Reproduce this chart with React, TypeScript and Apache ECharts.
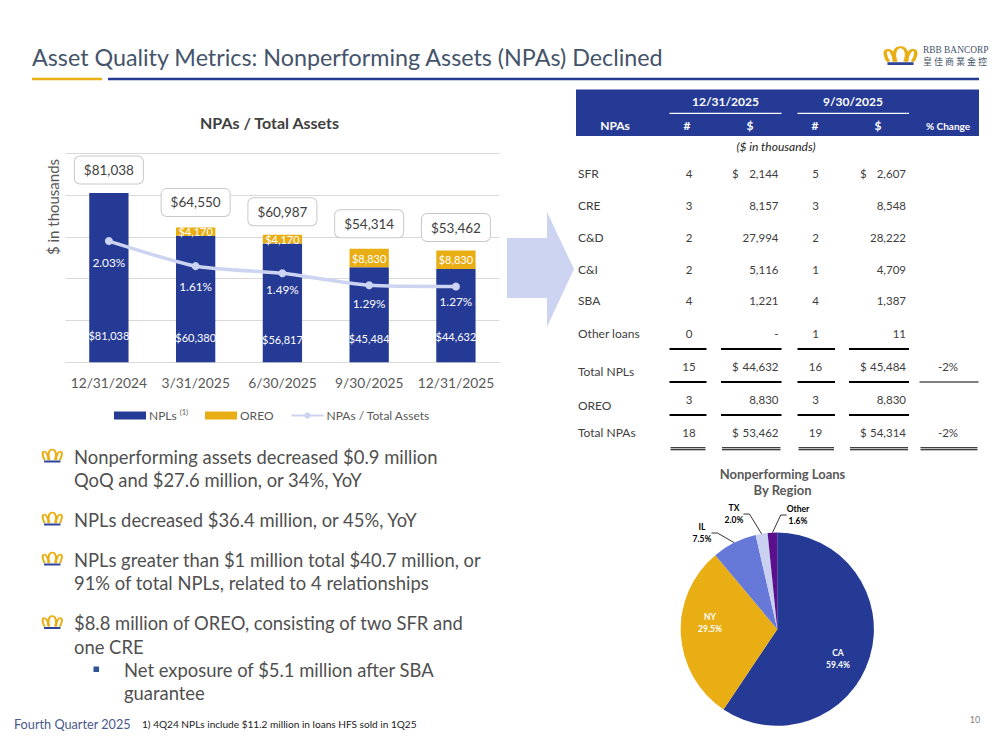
import React, { useEffect, useRef } from "react";
import * as echarts from "echarts";

const FONT = "Lato";
const NAVY = "#253A94";
const GOLD = "#E8AE14";
const PERIWINKLE = "#CDD4F1";
const GREY = "#595959";
const BODY = "#404040";

// ---- bar / line chart data
const quarters = ["12/31/2024", "3/31/2025", "6/30/2025", "9/30/2025", "12/31/2025"];
const nplValues = [81038, 60380, 56817, 45484, 44632];
const oreoValues = [null, 4170, 4170, 8830, 8830];
const totalValues = [81038, 64550, 60987, 54314, 53462];
const ratioValues = [2.03, 1.61, 1.49, 1.29, 1.27];
const nplLabelDistance = [28, 26, 24, 25, 27];
const ratioLabelDistance = [11, 10, 6, 8, 5];
const totalLabelDistance = [9, 11, 9, 11, 9];

// ---- pie data
const regions = ["CA", "NY", "IL", "TX", "Other"];
const regionShares = [59.4, 29.5, 7.5, 2.0, 1.6];
const regionColors = [NAVY, GOLD, "#6678D8", "#C9D0F0", "#5A0F8C"];
const regionLabelSpots: [number, number][] = [
  [838, 659],
  [710, 623],
  [702, 533],
  [734, 514],
  [798, 515],
];

// ---- table data
const rowLabels = ["SFR", "CRE", "C&D", "C&I", "SBA", "Other loans", "Total NPLs", "OREO", "Total NPAs"];
const countsCurrent = ["4", "3", "2", "2", "4", "0", "15", "3", "18"];
const amountsCurrent = ["2,144", "8,157", "27,994", "5,116", "1,221", "-", "44,632", "8,830", "53,462"];
const countsPrior = ["5", "3", "2", "1", "4", "1", "16", "3", "19"];
const amountsPrior = ["2,607", "8,548", "28,222", "4,709", "1,387", "11", "45,484", "8,830", "54,314"];
const percentChange = ["", "", "", "", "", "", "-2%", "", "-2%"];
const dollarRows = [0, 6, 8];

// ---- slide text
const bullets = [
  { y: 456.5, crown: true, x: 74, text: "Nonperforming assets decreased $0.9 million" },
  { y: 479.5, crown: false, x: 74, text: "QoQ and $27.6 million, or 34%, YoY" },
  { y: 519.5, crown: true, x: 74, text: "NPLs decreased $36.4 million, or 45%, YoY" },
  { y: 559.5, crown: true, x: 74, text: "NPLs greater than $1 million total $40.7 million, or" },
  { y: 583, crown: false, x: 74, text: "91% of total NPLs, related to 4 relationships" },
  { y: 623, crown: true, x: 74, text: "$8.8 million of OREO, consisting of two SFR and" },
  { y: 646.5, crown: false, x: 74, text: "one CRE" },
  { y: 669.5, crown: false, x: 124, text: "Net exposure of $5.1 million after SBA" },
  { y: 693, crown: false, x: 124, text: "guarantee" },
];

echarts.graphic.registerShape(
  "crownArcs",
  echarts.graphic.extendPath(
    "M36 78C24 40 32 4 50 4C68 4 76 40 64 78M30 78C30 40 18 16 8 18C-4 20 0 56 12 78M70 78C70 40 82 16 92 18C104 20 100 56 88 78",
    {}
  )
);

function label(text: string, x: number, y: number, o: any = {}) {
  return {
    type: "text",
    z: o.z ?? 5,
    rotation: o.rotation,
    x,
    y,
    style: {
      text,
      x: 0,
      y: 0,
      fill: o.fill ?? BODY,
      fontFamily: o.fontFamily ?? FONT,
      fontSize: o.size ?? 12,
      fontWeight: o.weight ?? "normal",
      fontStyle: o.italic ? "italic" : "normal",
      textAlign: o.align ?? "left",
      textVerticalAlign: "middle",
    },
  };
}

function bar(x1: number, x2: number, y: number, h: number, fill = "#000000") {
  return { type: "rect", z: 4, shape: { x: x1, y: y - h / 2, width: x2 - x1, height: h }, style: { fill } };
}

function crown(x: number, y: number, w: number, h: number, lineWidth: number) {
  const sx = w / 100;
  const sy = (h * 0.82) / 78;
  return [
    {
      type: "crownArcs",
      z: 5,
      x,
      y,
      scaleX: sx,
      scaleY: sy,
      style: { fill: "none", stroke: GOLD, lineWidth: lineWidth / Math.min(sx, sy) },
    },
    { type: "rect", z: 5, shape: { x: x + w * 0.08, y: y + h * 0.85, width: w * 0.84, height: h * 0.15 }, style: { fill: "#2E4499" } },
  ];
}

function slideGraphics() {
  const g: any[] = [];
  // title
  g.push(label("Asset Quality Metrics: Nonperforming Assets (NPAs) Declined", 32, 57, { size: 23.3, fill: "#44546A" }));
  g.push(bar(32, 102, 79, 2.4, GOLD));
  g.push(bar(108, 979, 79, 2.4, "#253A94"));
  // logo
  g.push(...crown(885, 46.5, 31, 18.5, 2.2));
  g.push(label("RBB BANCORP", 923, 50, { size: 9.4, fill: "#44546A", fontFamily: "Liberation Serif" }));
  g.push(label("皇 佳 商 業 金 控", 923, 61, { size: 9, fill: "#44546A", fontFamily: "Noto Sans CJK TC" }));

  // chart side text
  g.push(label("$ in thousands", 53, 207, { size: 15, fill: GREY, align: "center", rotation: Math.PI / 2 }));
  // arrow
  g.push({
    type: "polygon",
    z: 1,
    shape: { points: [[507, 238], [547, 238], [547, 212], [574, 269], [547, 327], [547, 298], [507, 298]] },
    style: { fill: PERIWINKLE },
  });

  // table header
  g.push({ type: "rect", z: 3, shape: { x: 576, y: 89.5, width: 403, height: 46.5 }, style: { fill: NAVY } });
  const white = { fill: "#FFFFFF", weight: "bold", align: "center" };
  g.push(label("12/31/2025", 725.5, 101, { ...white, size: 12 }));
  g.push(label("9/30/2025", 853, 101, { ...white, size: 12 }));
  g.push(bar(669.5, 781.5, 113.3, 1.2, "#FFFFFF"));
  g.push(bar(797.5, 909, 113.3, 1.2, "#FFFFFF"));
  g.push(label("NPAs", 615, 125, { ...white, size: 12 }));
  g.push(label("#", 687, 125, { ...white, size: 12 }));
  g.push(label("$", 750, 125, { ...white, size: 12 }));
  g.push(label("#", 815, 125, { ...white, size: 12 }));
  g.push(label("$", 878, 125, { ...white, size: 12 }));
  g.push(label("% Change", 948, 125.5, { ...white, size: 10 }));
  g.push(label("($ in thousands)", 776, 146.5, { size: 12, italic: true, align: "center", fill: "#262626" }));

  // table body
  const numberY = [173.5, 205, 237, 269, 300.5, 333.5, 366.5, 399.5, 432.5];
  const nameY = [173.5, 205, 237, 269, 300.5, 333.5, 371.5, 405, 432.5];
  rowLabels.forEach((name, i) => {
    g.push(label(name, 578, nameY[i], { size: 12 }));
    g.push(label(countsCurrent[i], 689, numberY[i], { size: 11.5, align: "center" }));
    g.push(label(amountsCurrent[i], 778.5, numberY[i], { size: 11.5, align: "right" }));
    g.push(label(countsPrior[i], 815.5, numberY[i], { size: 11.5, align: "center" }));
    g.push(label(amountsPrior[i], 906, numberY[i], { size: 11.5, align: "right" }));
    if (dollarRows.includes(i)) {
      g.push(label("$", 732, numberY[i], { size: 11.5 }));
      g.push(label("$", 860, numberY[i], { size: 11.5 }));
    }
    if (percentChange[i]) g.push(label(percentChange[i], 948, numberY[i], { size: 11.5, align: "center" }));
  });
  const segments = [[669.5, 706.5], [721, 781.5], [797.5, 835], [849, 909]];
  [349, 382, 415].forEach((y) => segments.forEach(([a, b]) => g.push(bar(a, b, y, 2))));
  g.push(bar(919.5, 978.5, 382, 1));
  [...segments, [919.5, 978.5]].forEach(([a, b]) => {
    g.push(bar(a + 1, b - 1, 447.8, 0.9));
    g.push(bar(a + 1, b - 1, 449.8, 0.9));
  });

  // pie title
  g.push(label("Nonperforming Loans", 782.5, 474, { size: 13, weight: "bold", fill: GREY, align: "center" }));
  g.push(label("By Region", 782.5, 490, { size: 13, weight: "bold", fill: GREY, align: "center" }));

  // bullets
  bullets.forEach((b) => {
    g.push(label(b.text, b.x, b.y, { size: 18.4, fill: "#505050" }));
    if (b.crown) g.push(...crown(42.5, b.y - 7.5, 19.5, 13.5, 1.5));
  });
  g.push({ type: "rect", z: 5, shape: { x: 93.5, y: 666.5, width: 5.5, height: 5.5 }, style: { fill: "#2F5597" } });

  // footer
  g.push(label("Fourth Quarter 2025", 14, 723.5, { size: 12.7, fill: "#4A5A8C" }));
  g.push(label("1) 4Q24 NPLs include $11.2 million in loans HFS sold in 1Q25", 142, 723.5, { size: 10.1, fill: "#1A1A1A" }));
  g.push(label("10", 975, 719.5, { size: 9, fill: "#7F7F7F", align: "center" }));
  return g;
}

export default function App() {
  const ref = useRef<HTMLDivElement>(null);
  useEffect(() => {
    const chart = echarts.init(ref.current!, undefined, { renderer: "svg" });
    chart.setOption({
      animation: false,
      backgroundColor: "#FFFFFF",
      textStyle: { fontFamily: FONT },
      title: {
        text: "NPAs / Total Assets",
        left: 264.5,
        textAlign: "center",
        top: 109,
        textStyle: { fontFamily: FONT, fontSize: 16, fontWeight: "bold", color: "#404040" },
      },
      grid: { left: 65.5, top: 153.3, width: 433.8, height: 209 },
      xAxis: {
        type: "category",
        data: quarters,
        axisTick: { show: false },
        axisLine: { lineStyle: { color: "#D9D9D9" } },
        axisLabel: { color: GREY, fontSize: 13.8, margin: 13, interval: 0, fontFamily: FONT },
      },
      yAxis: [
        {
          type: "value",
          min: 0,
          max: 100000,
          interval: 20000,
          axisLabel: { show: false },
          axisTick: { show: false },
          axisLine: { show: false },
          splitLine: { lineStyle: { color: "#D9D9D9" } },
        },
        {
          type: "value",
          min: 0,
          max: 3.5,
          interval: 0.5,
          axisLabel: { show: false },
          axisTick: { show: false },
          axisLine: { show: false },
          splitLine: { show: false },
        },
      ],
      legend: {
        left: 109,
        top: 403,
        itemWidth: 32,
        itemHeight: 8,
        itemGap: 17,
        data: [
          { name: "NPLs", icon: "rect" },
          { name: "OREO", icon: "rect" },
          { name: "NPAs / Total Assets" },
        ],
        formatter: (n: string) => (n === "NPLs" ? "NPLs{sup|(1)}" : n),
        textStyle: {
          color: GREY,
          fontSize: 12,
          fontFamily: FONT,
          padding: [0, 0, 0, -2],
          rich: { sup: { fontSize: 7.5, color: GREY, padding: [0, 2, 7, 3], fontFamily: FONT } },
        },
      },
      series: [
        {
          name: "NPLs",
          type: "bar",
          stack: "npa",
          barWidth: 39.3,
          itemStyle: { color: NAVY },
          data: nplValues.map((value, i) => ({
            value,
            label: { distance: nplLabelDistance[i] - 7 },
          })),
          label: {
            show: true,
            position: "insideBottom",
            color: "#FFFFFF",
            fontSize: 11,
            fontFamily: FONT,
            formatter: (p: any) => "$" + p.value.toLocaleString("en-US"),
          },
        },
        {
          name: "OREO",
          type: "bar",
          stack: "npa",
          itemStyle: { color: GOLD },
          data: oreoValues,
          label: {
            show: true,
            position: "inside",
            color: "#FFFFFF",
            fontSize: 11,
            fontFamily: FONT,
            formatter: (p: any) => "$" + p.value.toLocaleString("en-US"),
          },
        },
        {
          name: "NPAs / Total Assets",
          type: "line",
          yAxisIndex: 1,
          smooth: 0.2,
          symbol: "circle",
          symbolSize: 8,
          lineStyle: { color: PERIWINKLE, width: 3.5 },
          itemStyle: { color: PERIWINKLE },
          data: ratioValues.map((value, i) => ({
            value,
            label: { distance: ratioLabelDistance[i] },
          })),
          label: {
            show: true,
            position: "bottom",
            color: "#FFFFFF",
            fontSize: 11.8,
            fontFamily: FONT,
            formatter: (p: any) => p.value.toFixed(2) + "%",
          },
          z: 3,
        },
        {
          name: "Total",
          type: "line",
          symbol: "circle",
          symbolSize: 1,
          itemStyle: { color: "transparent" },
          lineStyle: { width: 0, color: "transparent" },
          data: totalValues.map((value, i) => ({
            value,
            label: { distance: totalLabelDistance[i] },
          })),
          label: {
            show: true,
            position: "top",
            color: BODY,
            fontSize: 13.5,
            fontFamily: FONT,
            width: 68,
            height: 27,
            lineHeight: 27,
            align: "center",
            borderColor: "#C8C8C8",
            borderWidth: 1,
            borderRadius: 5,
            backgroundColor: "#FFFFFF",
            formatter: (p: any) => "$" + p.value.toLocaleString("en-US"),
          },
          z: 4,
        },
        {
          name: "Region",
          type: "pie",
          center: [777.3, 629.2],
          radius: [0, 96.6],
          startAngle: 90,
          clockwise: true,
          data: regions.map((name, i) => ({
            name,
            value: regionShares[i],
            itemStyle: { color: regionColors[i] },
            label: {
              position: i < 2 ? "inside" : "outside",
              color: i < 2 ? "#FFFFFF" : "#000000",
            },
          })),
          label: {
            show: true,
            formatter: (p: any) => p.name + "\n" + p.value.toFixed(1) + "%",
            fontSize: 8.5,
            fontWeight: "bold",
            lineHeight: 11.5,
            fontFamily: FONT,
            align: "center",
          },
          labelLine: { show: true, lineStyle: { color: "#000000", width: 0.8 }, length: 6, length2: 6 },
          labelLayout: (p: any) => {
            const [x, y] = regionLabelSpots[p.dataIndex];
            return { x, y, align: "center", verticalAlign: "middle", moveOverlap: false };
          },
        },
      ],
      graphic: { elements: slideGraphics() },
    });
    return () => chart.dispose();
  }, []);
  return <div ref={ref} style={{ position: "fixed", left: 0, top: 0, width: 1000, height: 750 }} />;
}
